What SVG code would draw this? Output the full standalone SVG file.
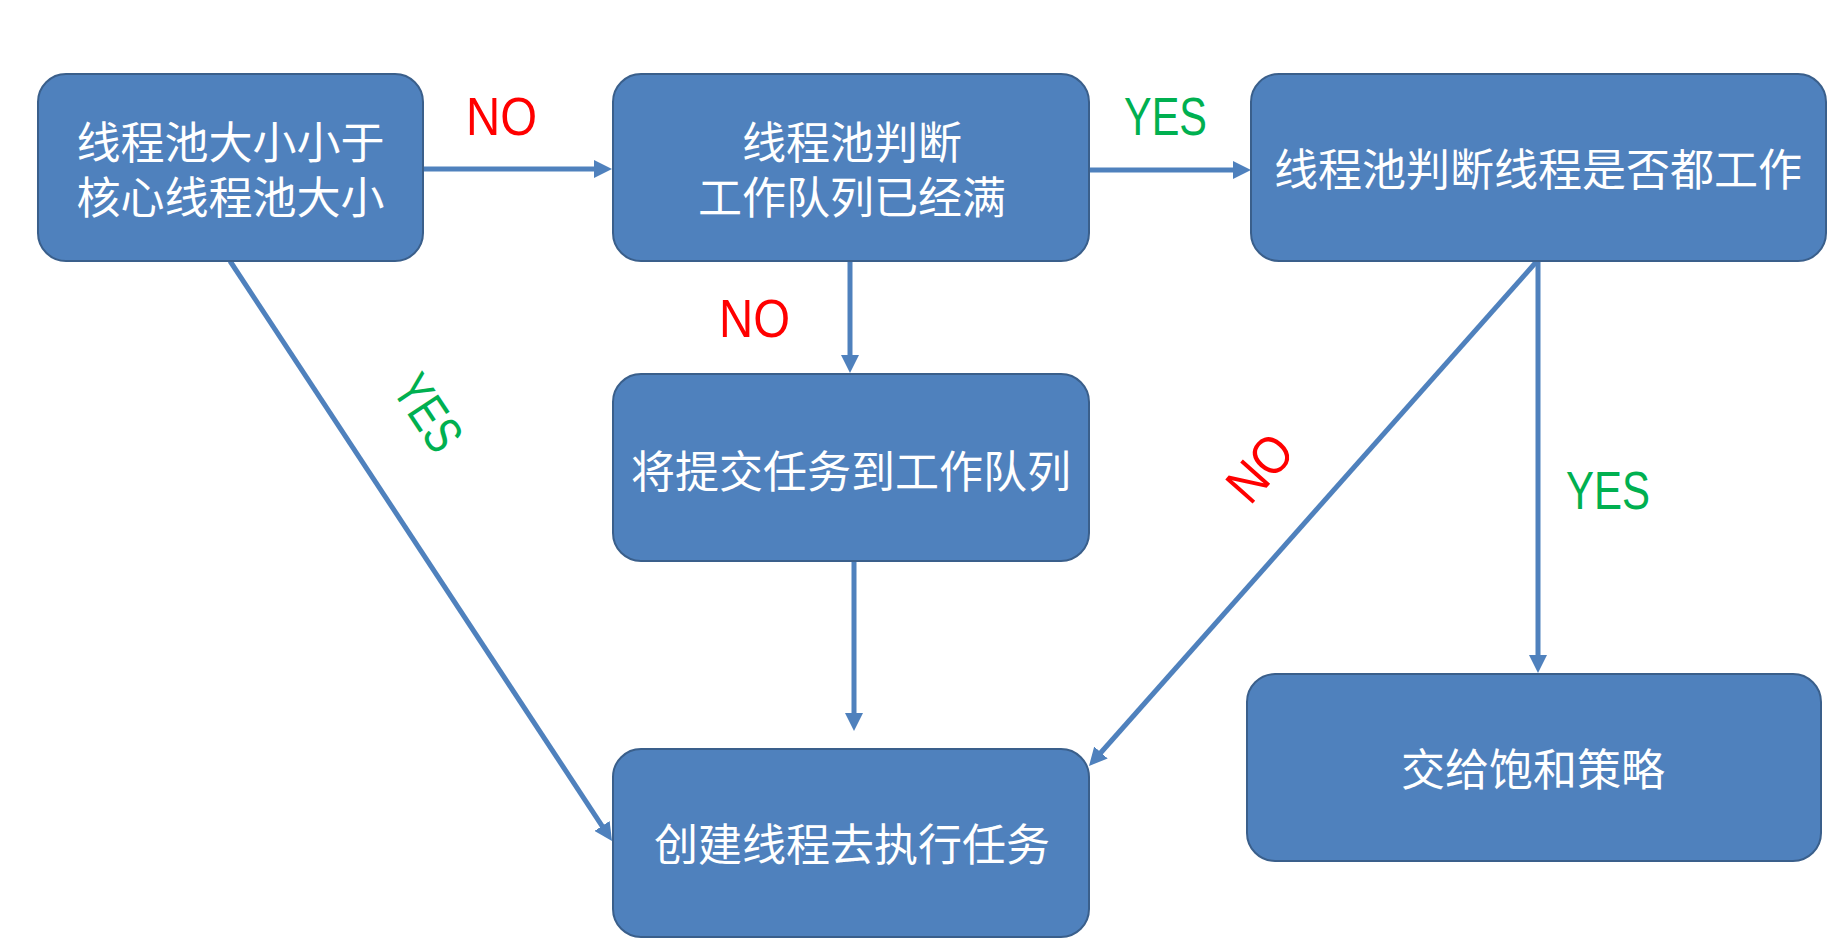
<svg xmlns="http://www.w3.org/2000/svg" width="1848" height="942" viewBox="0 0 1848 942">
<style>
.box{fill:#4F81BD;stroke:#3A5F8B;stroke-width:2}
.t{fill:#FFFFFF;font-family:"Noto Sans CJK SC","Noto Sans",sans-serif;font-size:44px;text-anchor:middle;dominant-baseline:central}
.c{fill:none;stroke:#4F81BD;stroke-width:5}
.lab{font-family:"Liberation Sans","Noto Sans",sans-serif;font-size:53px;text-anchor:middle}
.no{fill:#FF0000}
.yes{fill:#00B050}
</style>
<defs>
<marker id="ah" markerUnits="userSpaceOnUse" markerWidth="18" markerHeight="18" refX="10" refY="9" orient="auto">
<path d="M0,0 L18,9 L0,18 z" fill="#4F81BD"/>
</marker>
</defs>
<rect width="1848" height="942" fill="#FFFFFF"/>
<g id="connectors">
<line class="c" x1="423" y1="169" x2="604" y2="169" marker-end="url(#ah)"/>
<line class="c" x1="1089" y1="170" x2="1243" y2="170" marker-end="url(#ah)"/>
<line class="c" x1="850" y1="261" x2="850" y2="365" marker-end="url(#ah)"/>
<line class="c" x1="854" y1="561" x2="854" y2="723" marker-end="url(#ah)"/>
<line class="c" x1="230" y1="261" x2="607.6" y2="834.3" marker-end="url(#ah)"/>
<line class="c" x1="1537" y1="261" x2="1094.3" y2="760" marker-end="url(#ah)"/>
<line class="c" x1="1538" y1="261" x2="1538" y2="665" marker-end="url(#ah)"/>
<text class="lab no" x="501.5" y="135" textLength="71" lengthAdjust="spacingAndGlyphs">NO</text>
<text class="lab yes" x="1165.5" y="135" textLength="83" lengthAdjust="spacingAndGlyphs">YES</text>
<text class="lab no" x="754.5" y="337" textLength="71" lengthAdjust="spacingAndGlyphs">NO</text>
<text class="lab yes" x="1608" y="509" textLength="84" lengthAdjust="spacingAndGlyphs">YES</text>
<text class="lab yes" transform="translate(428,413) rotate(56.6)" x="0" y="18" textLength="80" lengthAdjust="spacingAndGlyphs">YES</text>
<text class="lab no" transform="translate(1260,468) rotate(-48.4)" x="0" y="18" textLength="71" lengthAdjust="spacingAndGlyphs">NO</text>
</g>
<g id="n1">
<rect class="box" x="38" y="74" width="385" height="187" rx="28" ry="28"/>
<text class="t"><tspan x="230.5" y="140">线程池大小小于</tspan><tspan x="230.5" y="195">核心线程池大小</tspan></text>
</g>
<g id="n2">
<rect class="box" x="613" y="74" width="476" height="187" rx="28" ry="28"/>
<text class="t"><tspan x="852" y="140">线程池判断</tspan><tspan x="852" y="195">工作队列已经满</tspan></text>
</g>
<g id="n3">
<rect class="box" x="1251" y="74" width="575" height="187" rx="28" ry="28"/>
<text class="t" x="1538" y="167">线程池判断线程是否都工作</text>
</g>
<g id="n4">
<rect class="box" x="613" y="374" width="476" height="187" rx="28" ry="28"/>
<text class="t" x="851" y="469">将提交任务到工作队列</text>
</g>
<g id="n5">
<rect class="box" x="613" y="749" width="476" height="188" rx="28" ry="28"/>
<text class="t" x="852" y="842">创建线程去执行任务</text>
</g>
<g id="n6">
<rect class="box" x="1247" y="674" width="574" height="187" rx="28" ry="28"/>
<text class="t" x="1533" y="767">交给饱和策略</text>
</g>
</svg>
